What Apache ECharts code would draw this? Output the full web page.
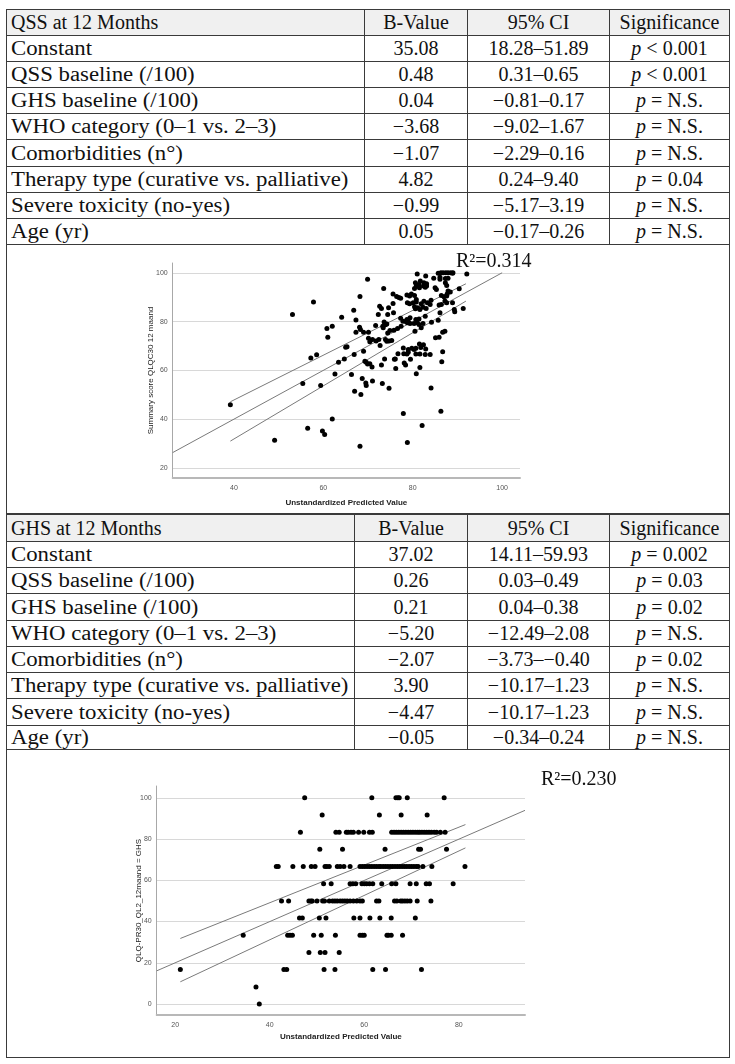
<!DOCTYPE html>
<html><head><meta charset="utf-8">
<script src="https://cdn.jsdelivr.net/npm/echarts@6/dist/echarts.min.js"></script>
<style>
html,body{margin:0;padding:0;background:#fff;width:735px;height:1064px;overflow:hidden}
.tbl{position:absolute;left:6px;border-collapse:collapse;font-family:"Liberation Serif","Times New Roman",serif;font-size:20px;color:#111;table-layout:fixed}
.tbl td{border:1px solid #3a3a3a;padding:0 0 0 4px;white-space:nowrap;overflow:hidden;vertical-align:middle}
.tbl td.c{text-align:center;padding:0}
.tbl tr.h td{background:#f0f0f0}
.tbl span.w{display:inline-block;transform:scaleX(1.14);transform-origin:0 50%}
#chart{position:absolute;left:0;top:0;width:735px;height:1064px}
</style></head>
<body>
<div id="tables"></div>
<div id="chart"></div>
<script>
// ---------- table data ----------
const qssHeader = ["QSS at 12 Months", "B-Value", "95% CI", "Significance"];
const qssRows = [
  ["Constant", "35.08", "18.28–51.89", "p < 0.001"],
  ["QSS baseline (/100)", "0.48", "0.31–0.65", "p < 0.001"],
  ["GHS baseline (/100)", "0.04", "−0.81–0.17", "p = N.S."],
  ["WHO category (0–1 vs. 2–3)", "−3.68", "−9.02–1.67", "p = N.S."],
  ["Comorbidities (n°)", "−1.07", "−2.29–0.16", "p = N.S."],
  ["Therapy type (curative vs. palliative)", "4.82", "0.24–9.40", "p = 0.04"],
  ["Severe toxicity (no-yes)", "−0.99", "−5.17–3.19", "p = N.S."],
  ["Age (yr)", "0.05", "−0.17–0.26", "p = N.S."]
];
const ghsHeader = ["GHS at 12 Months", "B-Value", "95% CI", "Significance"];
const ghsRows = [
  ["Constant", "37.02", "14.11–59.93", "p = 0.002"],
  ["QSS baseline (/100)", "0.26", "0.03–0.49", "p = 0.03"],
  ["GHS baseline (/100)", "0.21", "0.04–0.38", "p = 0.02"],
  ["WHO category (0–1 vs. 2–3)", "−5.20", "−12.49–2.08", "p = N.S."],
  ["Comorbidities (n°)", "−2.07", "−3.73–−0.40", "p = 0.02"],
  ["Therapy type (curative vs. palliative)", "3.90", "−10.17–1.23", "p = N.S."],
  ["Severe toxicity (no-yes)", "−4.47", "−10.17–1.23", "p = N.S."],
  ["Age (yr)", "−0.05", "−0.34–0.24", "p = N.S."]
];
const qssR2 = "R²=0.314";
const ghsR2 = "R²=0.230";

// ---------- scatter data ----------
const qssPoints = [
 [39.2,46.0],[53.1,82.9],[57.8,88.0],[60.8,77.2],[61.0,73.6],[57.2,65.1],[58.5,66.4],[55.4,54.7],[59.4,53.9],[49.1,31.5],[56.5,36.4],[59.8,35.2],[60.3,33.8],
 [81.0,99.5],[82.9,98.7],[85.7,99.8],[86.3,100],[86.8,100],[87.4,100],[87.9,100],[88.5,100],[89.0,100],[92.1,99.5],[84.7,97.8],[86.1,98.2],[87.3,97.7],[87.9,97.8],[88.9,99.8],
 [69.9,97.3],[81.7,96.6],[80.6,95.9],[81.4,95.2],[82.5,95.9],[83.1,95.5],[80.8,94.6],[82.4,94.6],[83.1,94.6],[80.4,93.6],[81.5,93.9],[82.8,94.1],[85.0,93.9],[85.3,93.2],[86.1,97.3],[87.3,95.9],[87.6,94.8],[90.4,93.5],[73.5,93.6],
 [87.9,92.5],[88.4,92.1],[87.7,91.3],[86.4,90.7],[87.0,90.2],[87.6,90.5],[75.6,91.3],[76.4,90.3],[77.3,89.6],[76.9,89.9],[78.7,90.9],[79.3,90.5],[79.7,91.3],[80.4,90.7],[80.8,89.1],[68.2,90.3],[84.1,88.8],
 [78.8,87.7],[79.3,87.3],[80.1,87.7],[80.8,88.0],[81.9,87.3],[82.5,88.3],[83.3,87.7],[83.9,87.0],[80.4,86.1],[81.1,85.7],[81.6,85.0],[82.3,85.9],[83.0,85.4],[80.6,85.3],[72.6,86.3],[73.0,85.4],[74.6,85.7],[75.6,87.4],[66.8,84.7],[85.9,86.8],[86.4,87.0],[87.2,88.4],[87.6,87.7],[88.9,87.7],[89.3,85.0],[89.4,84.0],[91.3,85.4],
 [75.7,83.6],[74.4,82.9],[72.3,82.9],[67.3,80.7],[64.1,81.8],[77.3,81.4],[78.7,80.9],[79.4,81.6],[78.4,80.1],[78.8,79.5],[80.7,80.9],[81.4,81.1],[80.3,79.2],[81.0,79.5],[82.3,79.2],[81.4,78.8],[82.8,82.2],[84.2,79.8],[85.7,80.6],[86.1,83.6],[73.6,79.9],[73.3,78.1],[73.9,78.7],[74.2,79.0],[71.7,78.4],[68.1,77.7],[68.3,76.8],[67.3,75.7],[69.0,75.7],[70.1,75.7],[62.0,78.1],
 [73.4,77.5],[74.9,76.4],[75.8,76.5],[74.4,75.4],[76.6,77.2],[77.4,78.1],[77.8,80.2],[79.0,80.1],[79.4,79.2],[80.5,76.1],[81.9,77.5],[86.7,75.7],[87.2,76.1],[85.1,73.4],[85.9,73.6],[70.1,73.2],[70.4,71.8],[71.0,72.7],[71.8,72.1],[72.4,72.7],[72.7,70.2],[73.9,72.7],[74.2,72.0],[74.7,72.1],[75.3,72.3],
 [65.0,69.5],[65.3,69.7],[63.4,63.4],[64.7,64.7],[66.9,66.6],[69.0,67.9],[77.9,69.2],[79.0,68.6],[79.0,67.5],[79.8,69.1],[80.3,68.6],[80.7,69.1],[81.5,70.8],[81.8,69.4],[82.4,70.5],[82.9,68.8],[81.6,66.8],[80.7,66.8],[82.8,66.5],[83.9,66.5],[78.0,66.9],[78.7,66.8],[86.7,67.7],[76.7,66.9],[76.1,64.7],
 [69.3,63.8],[69.6,63.4],[69.9,62.7],[70.4,62.8],[70.9,61.4],[73.0,62.3],[73.7,64.7],[75.9,64.6],[78.1,63.1],[78.4,62.3],[79.5,64.6],[81.6,61.2],[76.2,60.8],[86.5,63.6],[62.6,58.6],[66.3,58.4],[80.8,58.7],
 [68.7,56.7],[69.5,54.9],[69.6,53.9],[71.0,55.7],[73.2,54.7],[74.7,52.7],[67.0,51.5],[68.4,50.2],[84.1,52.8],
 [77.9,42.4],[86.3,43.3],[82.1,37.5],[78.8,30.5],[68.2,29.0],[62.0,40.2]
];
const qssFit = [[26.3,26.4],[100,100]];
const qssUpper = [[39.2,47.2],[91.9,95.5]];
const qssLower = [[39.2,31.1],[91.9,88.4]];
const qssXTicks = [40,60,80,100];
const qssYTicks = [20,40,60,80,100];

const ghsPoints = [
 [47.4,100],[51.1,91.7],[46.5,83.3],[50.6,75],
 [41.4,66.7],[41.8,66.7],[44.9,66.7],[47.1,66.7],[48.8,66.7],[49.6,66.7],[51.7,66.7],[52.1,66.7],[52.6,66.7],
 [51.4,58.3],[53.0,58.3],
 [42.5,50],[44.0,50],[48.3,50],[48.7,50],[49.0,50],[50.0,50],[51.2,50],[51.6,50],[52.6,50],
 [61.6,100],[66.7,100],[67.1,100],[67.4,100],[69.1,100],[76.9,100],
 [63.2,91.7],[67.8,91.7],[73.3,91.7],
 [54.0,83.3],[54.7,83.3],[56.2,83.3],[56.6,83.3],[57.2,83.3],[57.7,83.3],[58.8,83.3],[59.9,83.3],[61.1,83.3],[61.7,83.3],[65.8,83.3],
 [66.3,83.3],[66.8,83.3],[67.3,83.3],[67.8,83.3],[68.3,83.3],[68.8,83.3],[69.3,83.3],[69.8,83.3],[70.3,83.3],[70.8,83.3],[71.3,83.3],[71.7,83.3],[72.2,83.3],[72.7,83.3],[73.2,83.3],[73.7,83.3],[74.2,83.3],[74.8,83.3],[75.3,83.3],[76.1,83.3],[77.1,83.3],
 [55.4,75],[64.4,75],[71.5,75],[71.9,75],[77.4,75],
 [54.3,66.7],[54.9,66.7],[55.7,66.7],[57.0,66.7],[59.1,66.7],[59.6,66.7],[60.1,66.7],[60.6,66.7],[61.1,66.7],[61.6,66.7],[62.1,66.7],[62.6,66.7],[63.1,66.7],[63.5,66.7],[64.0,66.7],[64.5,66.7],[65.0,66.7],[65.5,66.7],[66.0,66.7],[66.5,66.7],[67.0,66.7],[67.5,66.7],[68.0,66.7],[68.5,66.7],[69.0,66.7],[69.5,66.7],[70.0,66.7],[70.5,66.7],[71.0,66.7],[71.4,66.7],[72.4,66.7],[74.3,66.7],[81.3,66.7],
 [57.0,58.3],[57.6,58.3],[58.2,58.3],[59.5,58.3],[60.0,58.3],[60.5,58.3],[61.1,58.3],[61.8,58.3],[63.7,58.3],[65.8,58.3],[66.7,58.3],[69.7,58.3],[71.0,58.3],[73.1,58.3],[73.8,58.3],[78.8,58.3],
 [53.3,50],[53.8,50],[54.3,50],[54.9,50],[55.4,50],[55.9,50],[56.4,50],[57.0,50],[57.7,50],[58.4,50],[59.1,50],[59.6,50],[62.6,50],[63.1,50],[66.4,50],[66.9,50],[67.7,50],[68.1,50],[68.6,50],[69.1,50],[69.7,50],[71.2,50],[74.1,50],
 [46.3,41.7],[46.9,41.7],[50.5,41.7],[51.9,41.7],[57.8,41.7],[59.1,41.7],[61.2,41.7],[63.3,41.7],[65.7,41.7],[70.8,41.7],
 [34.4,33.3],[43.8,33.3],[44.3,33.3],[44.8,33.3],[49.3,33.3],[50.9,33.3],[53.9,33.3],[59.1,33.3],[59.6,33.3],[60.0,33.3],[64.8,33.3],[65.1,33.3],[65.7,33.3],[68.1,33.3],
 [48.3,25],[50.7,25],[51.7,25],[54.7,25],
 [21.1,16.7],[43.0,16.7],[43.6,16.7],[51.5,16.7],[53.8,16.7],[61.8,16.7],[64.5,16.7],[72.1,16.7],
 [37.1,8.3],[37.8,0]
];
const ghsFit = [[16.1,16.1],[94,93.9]];
const ghsUpper = [[21.1,31.8],[81.4,87.0]];
const ghsLower = [[21.1,10.8],[81.4,75.7]];
const ghsXTicks = [20,40,60,80];
const ghsYTicks = [0,20,40,60,80,100];

// ---------- tables ----------
function sigHtml(s){ return s.replace(/^p/, '<i>p</i>'); }
function buildTable(top, colW, header, rows, rowH, chartH){
  let h = '<table class="tbl" style="top:'+top+'px;width:'+colW.reduce((a,b)=>a+b,0)+'px"><colgroup>';
  colW.forEach(w=>{ h += '<col style="width:'+w+'px">'; });
  h += '</colgroup>';
  h += '<tr class="h" style="height:'+rowH[0]+'px"><td>'+header[0]+'</td><td class="c">'+header[1]+'</td><td class="c">'+header[2]+'</td><td class="c">'+header[3]+'</td></tr>';
  rows.forEach((r,i)=>{
    h += '<tr style="height:'+rowH[i+1]+'px"><td><span class="w">'+r[0]+'</span></td><td class="c">'+r[1]+'</td><td class="c">'+r[2]+'</td><td class="c">'+sigHtml(r[3])+'</td></tr>';
  });
  h += '<tr style="height:'+chartH+'px"><td colspan="4"></td></tr></table>';
  return h;
}
document.getElementById('tables').innerHTML =
  buildTable(9, [358,103,142,120], qssHeader, qssRows, [26,26,26,26,26,27,26,26,26], 269) +
  buildTable(514, [348,113,142,120], ghsHeader, ghsRows, [27,26,26,27,26,26,26,27,24], 308);

// ---------- chart ----------
const chart = echarts.init(document.getElementById('chart'), null, {renderer:'canvas'});
const sans = '"Liberation Sans", Arial, sans-serif';
function xAx(grid, min, max, ticks, gap){
  return {type:'value', gridIndex:grid, min:min, max:max,
    axisLine:{show:true, onZero:false, lineStyle:{color:'#b8b8b8', width:2}},
    axisTick:{show:false, customValues:ticks},
    splitLine:{show:false},
    axisLabel:{customValues:ticks, fontSize:7, color:'#555', margin:7, fontFamily:sans},
    name:'Unstandardized Predicted Value', nameLocation:'middle', nameGap:gap, nameMoveOverlap:false,
    nameTextStyle:{fontSize:8, fontWeight:'bold', color:'#222', fontFamily:sans}};
}
function yAx(grid, min, max, ticks, name, gap){
  return {type:'value', gridIndex:grid, min:min, max:max,
    axisLine:{show:true, onZero:false, lineStyle:{color:'#a8a8a8', width:1}},
    axisTick:{show:false, customValues:ticks},
    splitLine:{show:true, lineStyle:{color:'#d8d8d8', width:1}},
    axisLabel:{customValues:ticks, fontSize:7, color:'#555', margin:5, fontFamily:sans},
    name:name, nameLocation:'middle', nameGap:gap, nameMoveOverlap:false,
    nameTextStyle:{fontSize:8, color:'#222', fontFamily:sans}};
}
function lineS(xi, data){
  return {type:'line', xAxisIndex:xi, yAxisIndex:xi, data:data, showSymbol:false, symbol:'none',
    lineStyle:{color:'#7a7a7a', width:1}, silent:true, z:3};
}
chart.setOption({
  backgroundColor:'transparent',
  animation:false,
  grid:[
    {left:172.7, top:263, width:347.3, height:215},
    {left:156.7, top:786, width:368.3, height:229}
  ],
  xAxis:[ xAx(0, 26.3, 104, qssXTicks, 21), xAx(1, 16.1, 94, ghsXTicks, 18) ],
  yAxis:[ yAx(0, 16, 104, qssYTicks, 'Summary score QLQC30 12 maand', 18),
          yAx(1, -5.3, 105.7, ghsYTicks, 'QLQ-PR30_QL2_12maand = GHS', 14) ],
  series:[
    {type:'scatter', xAxisIndex:0, yAxisIndex:0, data:qssPoints, symbolSize:5, itemStyle:{color:'#000', opacity:1}, z:4},
    lineS(0, qssFit), lineS(0, qssUpper), lineS(0, qssLower),
    {type:'scatter', xAxisIndex:1, yAxisIndex:1, data:ghsPoints, symbolSize:5, itemStyle:{color:'#000', opacity:1}, z:4},
    lineS(1, ghsFit), lineS(1, ghsUpper), lineS(1, ghsLower)
  ],
  graphic:[
    {type:'text', left:456, top:252, style:{text:qssR2, font:'20px "Liberation Serif", serif', fill:'#111'}},
    {type:'text', left:541, top:770, style:{text:ghsR2, font:'20px "Liberation Serif", serif', fill:'#111'}}
  ]
});
</script>
</body></html>
